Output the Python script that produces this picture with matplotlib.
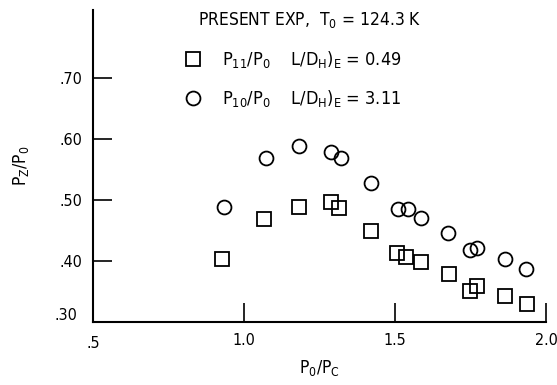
import numpy as np
from matplotlib import pyplot as plt

# P11/P0, (L/DH)E = 0.49
x_sq = [0.926, 1.066, 1.182, 1.288, 1.313, 1.421, 1.505, 1.538, 1.585, 1.679, 1.749, 1.770, 1.864, 1.936]
y_sq = [0.404, 0.469, 0.488, 0.497, 0.487, 0.449, 0.413, 0.407, 0.399, 0.378, 0.351, 0.359, 0.343, 0.330]
# P10/P0, (L/DH)E = 3.11
x_ci = [0.934, 1.073, 1.183, 1.288, 1.320, 1.421, 1.511, 1.544, 1.586, 1.677, 1.748, 1.773, 1.864, 1.934]
y_ci = [0.489, 0.568, 0.589, 0.578, 0.568, 0.527, 0.485, 0.485, 0.470, 0.446, 0.418, 0.421, 0.404, 0.387]

xticks = [1.0, 1.5, 2.0]
yticks = [0.40, 0.50, 0.60, 0.70]

plt.rcParams['font.family'] = ['DejaVu Sans']
plt.rcParams['font.stretch'] = 'condensed'
plt.rcParams['mathtext.fontset'] = 'custom'
plt.rcParams['mathtext.rm'] = 'DejaVu Sans:stretch=condensed'
plt.rcParams['mathtext.it'] = 'DejaVu Sans:stretch=condensed'
plt.rcParams['mathtext.default'] = 'rm'

fig = plt.figure(figsize=(5.57, 3.85), dpi=100)
ax = fig.add_axes([93/557, 63/385, 453/557, 312/385])

mk = dict(ls='none', mfc='none', mec='black', mew=1.3, ms=10)
sq, = ax.plot(x_sq, y_sq, marker='s', **mk)
ci, = ax.plot(x_ci, y_ci, marker='o', **mk)

ax.set_xlim(0.5, 2.0)
ax.set_ylim(0.30, 0.811)
ax.spines['top'].set_visible(False)
ax.spines['right'].set_visible(False)
for s in ('left', 'bottom'):
    ax.spines[s].set_linewidth(1.5)

ax.set_xticks(xticks)
ax.set_yticks(yticks)
ax.tick_params(direction='in', length=13.5, width=1.2, labelsize=11.5, pad=8)
ax.set_xticklabels(['1.0', '1.5', '2.0'])
ax.set_yticklabels(['.40', '.50', '.60', '.70'])
# axis-end labels
ax.text(0.5, -0.045, '.5', transform=ax.get_xaxis_transform(), ha='center', va='top', fontsize=11.5)
ax.text(-0.035, 0.311, '.30', transform=ax.get_yaxis_transform(), ha='right', va='center', fontsize=11.5)

ax.set_xlabel('P$_0$/P$_C$', fontsize=12.5, labelpad=7)
ax.set_ylabel('P$_Z$/P$_0$', fontsize=12.5, labelpad=20)

ax.text(0.232, 0.968, 'PRESENT EXP,  T$_0$ = 124.3 K', transform=ax.transAxes,
        ha='left', va='center', fontsize=12.5)
ax.legend([sq, ci],
          ['P$_{11}$/P$_0$    L/D$_H$)$_E$ = 0.49', 'P$_{10}$/P$_0$    L/D$_H$)$_E$ = 3.11'],
          loc='upper left', bbox_to_anchor=(0.201, 0.874), frameon=False,
          borderaxespad=0, borderpad=0, handlelength=1.0, handletextpad=1.1,
          labelspacing=1.0, fontsize=13)

fig.savefig('out.png', dpi=100)
